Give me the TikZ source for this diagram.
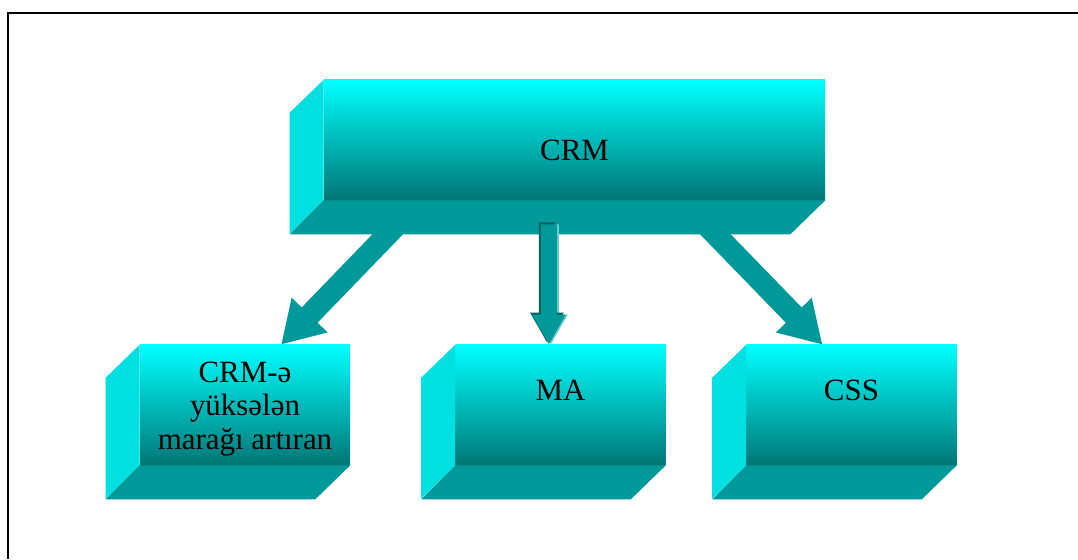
\documentclass[tikz,border=0pt]{standalone}
\usepackage{fontspec}
\setmainfont{Liberation Serif}
\usetikzlibrary{arrows.meta}
\definecolor{boxtop}{RGB}{0,255,255}
\definecolor{boxmid}{RGB}{0,196,196}
\definecolor{boxlow}{RGB}{0,117,117}
\definecolor{boxside}{RGB}{0,224,224}
\definecolor{boxfloor}{RGB}{0,153,153}
\definecolor{arrowdark}{RGB}{0,96,96}
\definecolor{arrowlight}{RGB}{102,204,204}

\begin{document}
\begin{tikzpicture}
    	[x=0.025cm, y=-0.025cm,
    	 facebox/.style={inner sep=0pt, minimum height=3cm, top color=boxtop, middle color=boxmid, bottom color=boxlow},
    	 bigbox/.style={facebox, minimum width=12.525cm},
    	 smallbox/.style={facebox, minimum width=5.25cm},
    	 sideface/.style={fill=boxside},
    	 floorface/.style={fill=boxfloor},
    	 boxtext/.style={font=\fontsize{22}{24}\selectfont, align=center},
    	 fatarrow/.style={draw=boxfloor, line width=0.55cm, -{Triangle[width=1.17cm, length=1.03cm]}},
    	 slimarrow/.style={line width=0.4cm, -{Triangle[width=0.78cm, length=0.75cm]}}]
    	\useasboundingbox (0,0) rectangle (1078,559);
    	\draw[line width=1.5pt] (8,559) -- (8,13) -- (1078,13);

    	\node at (574.5,140) [bigbox] (crm) {};
    	\node at (245,405) [smallbox] (ca) {};
    	\node at (560.5,405) [smallbox] (ma) {};
    	\node at (851.5,405) [smallbox] (css) {};

    	\foreach \b in {crm,ca,ma,css} {
    	    \fill[sideface] (\b.north west) -- ++(-34,33) -- ++(0,121) -- (\b.south west) -- cycle;
    	    \fill[floorface] (\b.south west) -- ++(-34,34) -- ([xshift=-0.875cm,yshift=-0.85cm]\b.south east) -- (\b.south east) -- cycle;
    	}

    	\node at ([yshift=-0.25cm]crm.center) [boxtext] (crmtext) {CRM};
    	\node at ([yshift=-0.1cm]ca.center) [boxtext] (catext) {CRM-ə\\yüksələn\\marağı artıran};
    	\node at ([yshift=0.375cm]ma.center) [boxtext] (matext) {MA};
    	\node at ([yshift=0.375cm]css.center) [boxtext] (csstext) {CSS};

    	\draw[fatarrow] ([xshift=-4.39cm,yshift=-0.56cm]crm.south) -- ([xshift=0.9cm]ca.north);
    	\draw[fatarrow] ([xshift=3.24cm,yshift=-0.56cm]crm.south) -- ([xshift=-0.725cm]css.north);

    	\draw[slimarrow, draw=arrowlight] ([xshift=-0.59cm,yshift=-0.6cm]crm.south) -- ([xshift=-0.24cm]ma.north);
    	\draw[slimarrow, draw=arrowdark] ([xshift=-0.69cm,yshift=-0.55cm]crm.south) -- ([xshift=-0.34cm,yshift=0.05cm]ma.north);
    	\draw[slimarrow, draw=boxfloor] ([xshift=-0.64cm,yshift=-0.6cm]crm.south) -- ([xshift=-0.29cm]ma.north);
\end{tikzpicture}
\end{document}
